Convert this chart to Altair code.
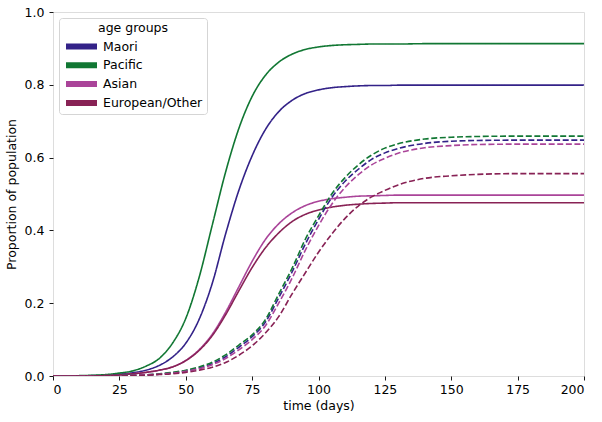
import altair as alt
import pandas as pd

# Sample days shared by every series
days = [0, 10, 20, 25, 30, 35, 40, 45, 50, 55, 60, 65, 70, 75, 80, 85, 90, 95,
        100, 105, 110, 115, 120, 125, 130, 140, 150, 160, 175, 200]

groups = ["Maori", "Pacific", "Asian", "European/Other"]
colors = ["#332288", "#117733", "#AA4499", "#882255"]

# Solid curves
maori_solid = [0, 0.0005, 0.002, 0.005, 0.009, 0.016, 0.029, 0.052, 0.09, 0.155, 0.255, 0.39,
               0.51, 0.605, 0.677, 0.726, 0.757, 0.776, 0.786, 0.792, 0.795, 0.797, 0.798,
               0.798, 0.799, 0.799, 0.799, 0.799, 0.799, 0.799]
pacific_solid = [0, 0.001, 0.004, 0.008, 0.014, 0.027, 0.048, 0.09, 0.158, 0.27, 0.415, 0.56,
                 0.68, 0.768, 0.826, 0.862, 0.884, 0.897, 0.904, 0.908, 0.910, 0.911, 0.912,
                 0.912, 0.912, 0.913, 0.913, 0.913, 0.913, 0.913]
asian_solid = [0, 0.0003, 0.001, 0.003, 0.006, 0.01, 0.016, 0.025, 0.043, 0.072, 0.115, 0.175,
               0.245, 0.315, 0.375, 0.418, 0.448, 0.468, 0.48, 0.487, 0.491, 0.494, 0.495,
               0.496, 0.497, 0.497, 0.497, 0.497, 0.497, 0.497]
euro_solid = [0, 0.0003, 0.001, 0.003, 0.006, 0.01, 0.016, 0.025, 0.042, 0.07, 0.111, 0.168,
              0.234, 0.298, 0.352, 0.393, 0.424, 0.444, 0.456, 0.464, 0.469, 0.472, 0.474,
              0.475, 0.476, 0.476, 0.476, 0.476, 0.476, 0.476]

# Dashed curves
maori_dashed = [0, 0.0002, 0.0007, 0.0012, 0.002, 0.003, 0.005, 0.009, 0.014, 0.022, 0.034,
                0.053, 0.079, 0.108, 0.148, 0.215, 0.285, 0.362, 0.43, 0.49, 0.535, 0.568,
                0.595, 0.613, 0.625, 0.639, 0.645, 0.647, 0.648, 0.648]
pacific_dashed = [0, 0.0002, 0.0008, 0.0013, 0.002, 0.003, 0.006, 0.01, 0.016, 0.025, 0.038,
                  0.058, 0.085, 0.113, 0.155, 0.225, 0.295, 0.375, 0.44, 0.5, 0.545, 0.58,
                  0.607, 0.626, 0.638, 0.651, 0.656, 0.658, 0.659, 0.659]
asian_dashed = [0, 0.0002, 0.0006, 0.001, 0.002, 0.003, 0.005, 0.008, 0.013, 0.02, 0.031,
                0.048, 0.072, 0.1, 0.138, 0.2, 0.268, 0.345, 0.413, 0.472, 0.518, 0.553,
                0.58, 0.598, 0.612, 0.627, 0.633, 0.636, 0.637, 0.637]
euro_dashed = [0, 0.0001, 0.0004, 0.0007, 0.001, 0.002, 0.004, 0.006, 0.01, 0.016, 0.024,
               0.037, 0.057, 0.083, 0.118, 0.163, 0.225, 0.283, 0.34, 0.39, 0.433, 0.467,
               0.492, 0.51, 0.525, 0.543, 0.55, 0.554, 0.556, 0.556]

x_ticks = [0, 25, 50, 75, 100, 125, 150, 175, 200]
y_ticks = [0.0, 0.2, 0.4, 0.6, 0.8, 1.0]

series = [
    ("Maori", "solid", maori_solid),
    ("Pacific", "solid", pacific_solid),
    ("Asian", "solid", asian_solid),
    ("European/Other", "solid", euro_solid),
    ("Maori", "dashed", maori_dashed),
    ("Pacific", "dashed", pacific_dashed),
    ("Asian", "dashed", asian_dashed),
    ("European/Other", "dashed", euro_dashed),
]

rows = []
for order, (grp, kind, vals) in enumerate(series):
    for d, v in zip(days, vals):
        rows.append({"day": d, "value": v, "group": grp, "kind": kind,
                     "line": f"{grp} {kind}", "order": order})
df = pd.DataFrame(rows)

FONT = "DejaVu Sans"
FS = 12.5

axis_style = dict(
    grid=False, domain=False, ticks=True, tickColor="black", tickSize=4, tickWidth=0.9,
    labelFont=FONT, labelFontSize=FS, labelColor="black",
    titleFont=FONT, titleFontSize=FS, titleColor="black", titleFontWeight="normal",
)

chart = alt.Chart(df).mark_line(strokeWidth=1.6, interpolate="monotone", clip=True).encode(
    x=alt.X("day:Q",
            scale=alt.Scale(domain=[0, 200], nice=False, zero=False),
            axis=alt.Axis(title="time (days)", values=x_ticks, format="d",
                          labelPadding=3, titlePadding=4, **axis_style)),
    y=alt.Y("value:Q",
            scale=alt.Scale(domain=[0, 1], nice=False),
            axis=alt.Axis(title="Proportion of population", values=y_ticks, format=".1f",
                          labelPadding=5, titlePadding=6, **axis_style)),
    color=alt.Color("group:N",
                    scale=alt.Scale(domain=groups, range=colors),
                    legend=alt.Legend(
                        title="age groups", orient="none", legendX=6, legendY=6,
                        symbolType="stroke", symbolSize=961, symbolStrokeWidth=6,
                        clipHeight=12, rowPadding=5.8, labelOffset=3,
                        labelFontSize=FS, labelFont=FONT, labelColor="black",
                        titleFontSize=FS, titleFont=FONT, titleFontWeight="normal",
                        titleColor="black", titleAnchor="middle", titlePadding=6,
                        padding=4, strokeColor="#d5d5d5", fillColor="white",
                        cornerRadius=3)),
    strokeDash=alt.StrokeDash("kind:N",
                              scale=alt.Scale(domain=["solid", "dashed"],
                                              range=[[1, 0], [6, 2.6]]),
                              legend=None),
    detail="line:N",
    order="order:Q",
).properties(
    width=531, height=364,
    padding={"left": 53, "top": 12, "right": 18, "bottom": 46},
    autosize="none",
).configure_view(
    stroke="black", strokeWidth=0.9,
).configure(background="white")

chart.save("out.html", embed_options={"renderer": "svg", "actions": False})
